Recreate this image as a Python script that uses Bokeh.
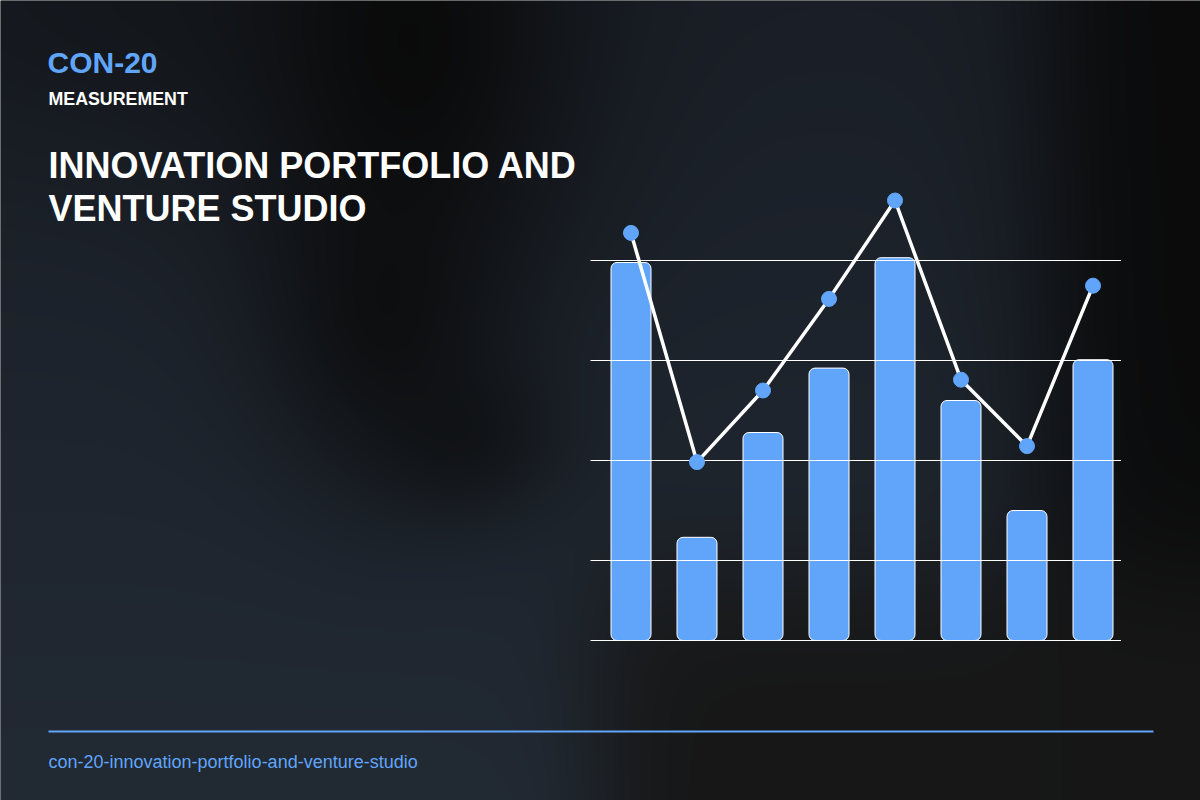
import numpy as np
from bokeh.plotting import figure
from bokeh.models import Range1d, Label, BoxAnnotation
from bokeh.embed import file_html
from bokeh.resources import INLINE

# ---------------- data ----------------
categories = ["P1", "P2", "P3", "P4", "P5", "P6", "P7", "P8"]
bar_values = [99.5, 30.8, 57.0, 73.1, 100.7, 65.0, 37.5, 75.2]
line_values = [106.9, 49.6, 67.5, 90.4, 115.0, 70.2, 53.6, 93.7]
grid_ticks = [25, 50, 75, 100]
axis_floor = 5

code = "CON-20"
kicker = "MEASUREMENT"
title_lines = ["INNOVATION PORTFOLIO AND", "VENTURE STUDIO"]
footer = "con-20-innovation-portfolio-and-venture-studio"

# ---------------- layout ----------------
W, H = 1200, 800
BLUE = "#60a5fa"
FONT = "Liberation Sans"
band_left, px_per_cat = 597.5, 66.0
grid_left_px, grid_right_px = 590, 1120.5
base_px = 640
px_per_unit = 4.0

x0 = -band_left / px_per_cat
x1 = (W - band_left) / px_per_cat
y0 = axis_floor - (H - base_px) / px_per_unit
y1 = axis_floor + base_px / px_per_unit

p = figure(width=W, height=H, output_backend="svg", toolbar_location=None,
           x_axis_type=None, y_axis_type=None,
           x_range=Range1d(x0, x1), y_range=Range1d(y0, y1),
           min_border=0, min_border_left=0, min_border_right=0,
           min_border_top=0, min_border_bottom=0)
p.outline_line_color = None
p.grid.visible = False
p.background_fill_color = "#151515"
p.border_fill_color = "#151515"

# ---------------- background (blurred gradient) ----------------
sc = 2
gw, gh = W // sc, H // sc
GX, GY = np.meshgrid((np.arange(gw) + 0.5) * sc, (np.arange(gh) + 0.5) * sc)


def gauss(cx, cy, sx, sy):
    return np.exp(-(((GX - cx) / sx) ** 2 + ((GY - cy) / sy) ** 2) / 2)


def sig(t):
    return 1 / (1 + np.exp(-t))


t = GY / H
slate = np.stack([26 + 8 * t, 31 + 11 * t, 39 + 13 * t], -1)
d = 1 - (1 - 0.95 * gauss(410, 40, 120, 190)) \
      * (1 - 0.70 * gauss(385, 320, 80, 110)) \
      * (1 - 0.50 * gauss(470, 440, 65, 55)) \
      * (1 - 0.95 * sig((GX - 1045) / 35)) \
      * (1 - 0.35 * gauss(120, 0, 200, 120))
dark = np.array([10, 10, 10])
col = slate * (1 - d[..., None]) + dark * d[..., None]
gm = sig((GX - 600) / 30) * sig((GY - 570) / 40)
gray = np.array([23, 23, 23])
col = col * (1 - gm[..., None]) + gray * gm[..., None]
col = np.clip(col, 0, 255).astype(np.uint8)[::-1]
img = np.empty((gh, gw), dtype=np.uint32)
view = img.view(dtype=np.uint8).reshape((gh, gw, 4))
view[..., 0] = col[..., 0]
view[..., 1] = col[..., 1]
view[..., 2] = col[..., 2]
view[..., 3] = 255
p.image_rgba(image=[img], x=x0, y=y0, dw=x1 - x0, dh=y1 - y0)

# ---------------- chart ----------------
xc = [i + 0.5 for i in range(len(categories))]
p.vbar(x=xc, width=40 / px_per_cat, bottom=axis_floor, top=bar_values,
       fill_color=BLUE, line_color="white", line_width=1, border_radius=6)

gx0 = (grid_left_px - band_left) / px_per_cat
gx1 = (grid_right_px - band_left) / px_per_cat
gy = [axis_floor] + grid_ticks
p.segment(x0=[gx0] * len(gy), x1=[gx1] * len(gy), y0=gy, y1=gy,
          line_color="white", line_width=1)

p.line(xc, line_values, line_color="white", line_width=3.5)
p.scatter(xc, line_values, size=15, fill_color=BLUE, line_color=BLUE)

# ---------------- texts ----------------
def add_text(txt, x, baseline_px, size, color, bold=True):
    p.add_layout(Label(x=x, y=H - baseline_px + 0.34 * size,
                       x_units="screen", y_units="screen", text=txt,
                       text_font=FONT, text_font_style="bold" if bold else "normal",
                       text_font_size=f"{size}px", text_color=color,
                       text_baseline="alphabetic"))


add_text(code, 47, 72, 30, BLUE)
add_text(kicker, 48, 105, 17.8, "white")
for i, line in enumerate(title_lines):
    add_text(line, 48, 177 + 43 * i, 36, "white")
p.add_layout(BoxAnnotation(left=48, right=1153, bottom=H - 732, top=H - 730,
                           left_units="screen", right_units="screen",
                           bottom_units="screen", top_units="screen",
                           fill_color=BLUE, fill_alpha=1, line_color=None))
add_text(footer, 48, 768, 18, BLUE, bold=False)

open("out.html", "w").write(file_html(p, INLINE))
